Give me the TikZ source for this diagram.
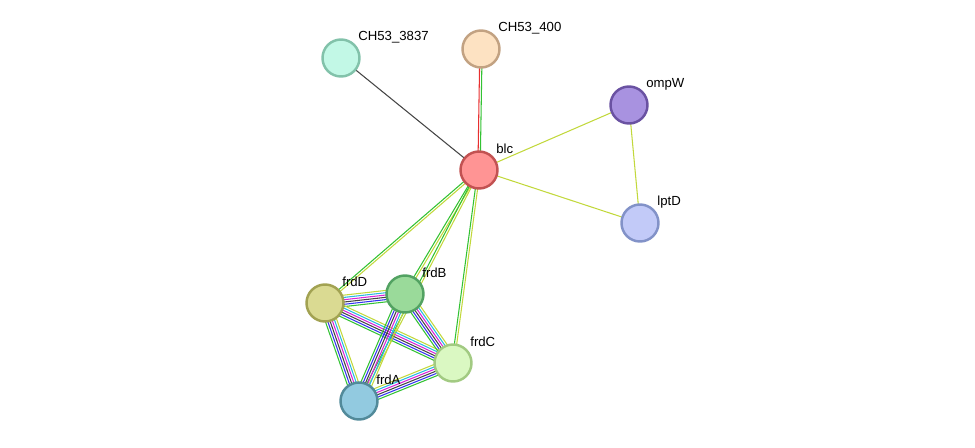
\documentclass[tikz,border=0pt]{standalone}
\usepackage{fontspec}
\setmainfont{Liberation Sans}
\usetikzlibrary{calc}

\definecolor{cgreen}{HTML}{33C233}
\definecolor{cyellow}{HTML}{C2D83C}
\definecolor{ccyan}{HTML}{29B9E0}
\definecolor{cmagenta}{HTML}{D824D8}
\definecolor{cblack}{HTML}{444444}
\definecolor{cblue}{HTML}{3434F0}
\definecolor{cred}{HTML}{E83030}

\definecolor{f3837}{HTML}{C2F8E6}\definecolor{d3837}{HTML}{82C2AA}
\definecolor{f400}{HTML}{FDE2C2}\definecolor{d400}{HTML}{C2A282}
\definecolor{fompW}{HTML}{A892E0}\definecolor{dompW}{HTML}{6A52A2}
\definecolor{fblc}{HTML}{FF9494}\definecolor{dblc}{HTML}{C25252}
\definecolor{flptD}{HTML}{C2CAF8}\definecolor{dlptD}{HTML}{8292C8}
\definecolor{ffrdD}{HTML}{DADA92}\definecolor{dfrdD}{HTML}{A2A252}
\definecolor{ffrdB}{HTML}{9ADA9A}\definecolor{dfrdB}{HTML}{52A262}
\definecolor{ffrdC}{HTML}{DAF8C2}\definecolor{dfrdC}{HTML}{A2CA82}
\definecolor{ffrdA}{HTML}{92CAE0}\definecolor{dfrdA}{HTML}{528A9A}

\tikzset{
  prot/.style={circle, minimum size=0.74cm, inner sep=0, line width=1.4pt, fill=f#1, draw=d#1},
  lbl/.style={anchor=west, inner sep=0, font=\fontsize{7.5pt}{8pt}\selectfont},
}

% parallel coloured lines between two points
\newcommand\edgeset[4]{%
  \foreach \c [count=\i] in {#3} {
    \pgfmathsetmacro\o{(\i-(#4+1)/2)*1.3}
    \draw[line width=0.6pt, \c] ($(#1)!\o pt!90:(#2)$) -- ($(#2)!\o pt!-90:(#1)$);
  }%
}

\begin{document}
\begin{tikzpicture}[x=0.02cm, y=-0.02cm]
  \useasboundingbox (0,0) rectangle (975,447);

  % positions
  \coordinate (c3837) at (341,58);
  \coordinate (c400) at (481,49);
  \coordinate (compW) at (629,105);
  \coordinate (cblc) at (479,170);
  \coordinate (clptD) at (640,223);
  \coordinate (cfrdD) at (325,303);
  \coordinate (cfrdB) at (405,294);
  \coordinate (cfrdC) at (453,363);
  \coordinate (cfrdA) at (359,401);

  % edges
  \edgeset{cblc}{c3837}{cblack}{1}
  \edgeset{cblc}{c400}{cgreen,cred}{2}
  \edgeset{cblc}{compW}{cyellow}{1}
  \edgeset{cblc}{clptD}{cyellow}{1}
  \edgeset{compW}{clptD}{cyellow}{1}
  \edgeset{cblc}{cfrdD}{cgreen,cyellow}{2}
  \edgeset{cblc}{cfrdB}{cgreen,cyellow}{2}
  \edgeset{cblc}{cfrdC}{cgreen,cyellow}{2}
  \edgeset{cblc}{cfrdA}{cgreen,cyellow}{2}
  \edgeset{cfrdD}{cfrdB}{cgreen,cblue,cblack,cmagenta,ccyan,cyellow}{6}
  \edgeset{cfrdD}{cfrdA}{cgreen,cblue,cblack,cmagenta,ccyan,cyellow}{6}
  \edgeset{cfrdD}{cfrdC}{cgreen,cblue,cblack,cmagenta,ccyan,cyellow}{6}
  \edgeset{cfrdB}{cfrdA}{cgreen,cblue,cblack,cmagenta,ccyan,cyellow}{6}
  \edgeset{cfrdB}{cfrdC}{cgreen,cblue,cblack,cmagenta,ccyan,cyellow}{6}
  \edgeset{cfrdA}{cfrdC}{cgreen,cblue,cblack,cmagenta,ccyan,cyellow}{6}

  % proteins
  \node[prot=3837] (n3837) at (c3837) {};
  \node[prot=400] (n400) at (c400) {};
  \node[prot=ompW] (nompW) at (compW) {};
  \node[prot=blc] (nblc) at (cblc) {};
  \node[prot=lptD] (nlptD) at (clptD) {};
  \node[prot=frdD] (nfrdD) at (cfrdD) {};
  \node[prot=frdB] (nfrdB) at (cfrdB) {};
  \node[prot=frdC] (nfrdC) at (cfrdC) {};
  \node[prot=frdA] (nfrdA) at (cfrdA) {};

  % labels
  \node[lbl] (l3837) at ($(c3837)+(17,-21)$) {CH53\_3837};
  \node[lbl] (l400) at ($(c400)+(17,-21)$) {CH53\_400};
  \node[lbl] (lompW) at ($(compW)+(17,-21)$) {ompW};
  \node[lbl] (lblc) at ($(cblc)+(17,-21)$) {blc};
  \node[lbl] (llptD) at ($(clptD)+(17,-21)$) {lptD};
  \node[lbl] (lfrdD) at ($(cfrdD)+(17,-21)$) {frdD};
  \node[lbl] (lfrdB) at ($(cfrdB)+(17,-21)$) {frdB};
  \node[lbl] (lfrdC) at ($(cfrdC)+(17,-21)$) {frdC};
  \node[lbl] (lfrdA) at ($(cfrdA)+(17,-21)$) {frdA};
\end{tikzpicture}
\end{document}
